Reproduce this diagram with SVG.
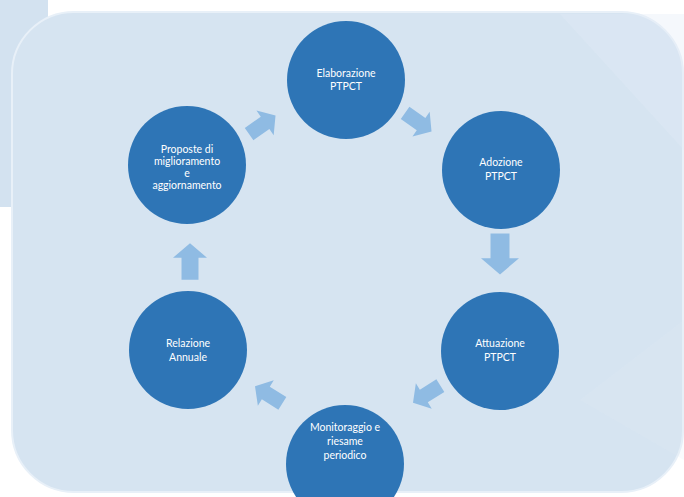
<svg xmlns="http://www.w3.org/2000/svg" width="684" height="497" viewBox="0 0 684 497">
  <style>
    .node circle { fill: #2e75b6; }
    .node text { fill: #ffffff; font-family: Lato, "Open Sans", "Liberation Sans", sans-serif; font-size: 10.5px; text-anchor: middle; }
    .arrow { fill: #8fbbe3; }
  </style>
  <defs>
    <path id="blockArrow" d="M-21,-10 H5 V-20 L22,0 L5,20 V10 H-21 Z"/>
  </defs>
  <rect x="0" y="0" width="684" height="497" fill="#ffffff"/>
  <!-- left strip -->
  <path d="M0,0 H48 V170 Q48,207 12,207 H0 Z" fill="#d3e2f0"/>
  <!-- main panel -->
  <rect x="12" y="12" width="671" height="480" rx="62" ry="62" fill="#d6e4f1" stroke="#e8f0f8" stroke-width="2"/>
  <!-- faint watermark shapes -->
  <polygon points="560,14 684,14 684,150" fill="#e2ecf6" opacity="0.35"/>
  <polygon points="580,400 684,320 684,460" fill="#e2ecf6" opacity="0.2"/>

  <g id="connectors">
    <use href="#blockArrow" class="arrow" transform="translate(262,125) rotate(-35) scale(0.75)"/>
    <use href="#blockArrow" class="arrow" transform="translate(418,122) rotate(35) scale(0.75)"/>
    <use href="#blockArrow" class="arrow" transform="translate(500,253.5) rotate(90) scale(0.95)"/>
    <use href="#blockArrow" class="arrow" transform="translate(427,394) rotate(148) scale(0.75)"/>
    <use href="#blockArrow" class="arrow" transform="translate(269,395) rotate(212) scale(0.75)"/>
    <use href="#blockArrow" class="arrow" transform="translate(190,262) rotate(-90) scale(0.85)"/>
  </g>

  <g id="node-elaborazione" class="node">
    <circle cx="346" cy="80" r="59"/>
    <text x="346" y="77">Elaborazione</text>
    <text x="346" y="90">PTPCT</text>
  </g>
  <g id="node-adozione" class="node">
    <circle cx="501" cy="170" r="59"/>
    <text x="501" y="166">Adozione</text>
    <text x="501" y="180">PTPCT</text>
  </g>
  <g id="node-attuazione" class="node">
    <circle cx="500" cy="351" r="59"/>
    <text x="500" y="347">Attuazione</text>
    <text x="500" y="361">PTPCT</text>
  </g>
  <g id="node-monitoraggio" class="node">
    <circle cx="345" cy="464" r="59"/>
    <text x="345" y="431">Monitoraggio e</text>
    <text x="345" y="445">riesame</text>
    <text x="345" y="459">periodico</text>
  </g>
  <g id="node-relazione" class="node">
    <circle cx="188" cy="350" r="59"/>
    <text x="188" y="347">Relazione</text>
    <text x="188" y="361">Annuale</text>
  </g>
  <g id="node-proposte" class="node">
    <circle cx="187" cy="165" r="59"/>
    <text x="187" y="153">Proposte di</text>
    <text x="187" y="165">miglioramento</text>
    <text x="187" y="177">e</text>
    <text x="187" y="189">aggiornamento</text>
  </g>
</svg>
